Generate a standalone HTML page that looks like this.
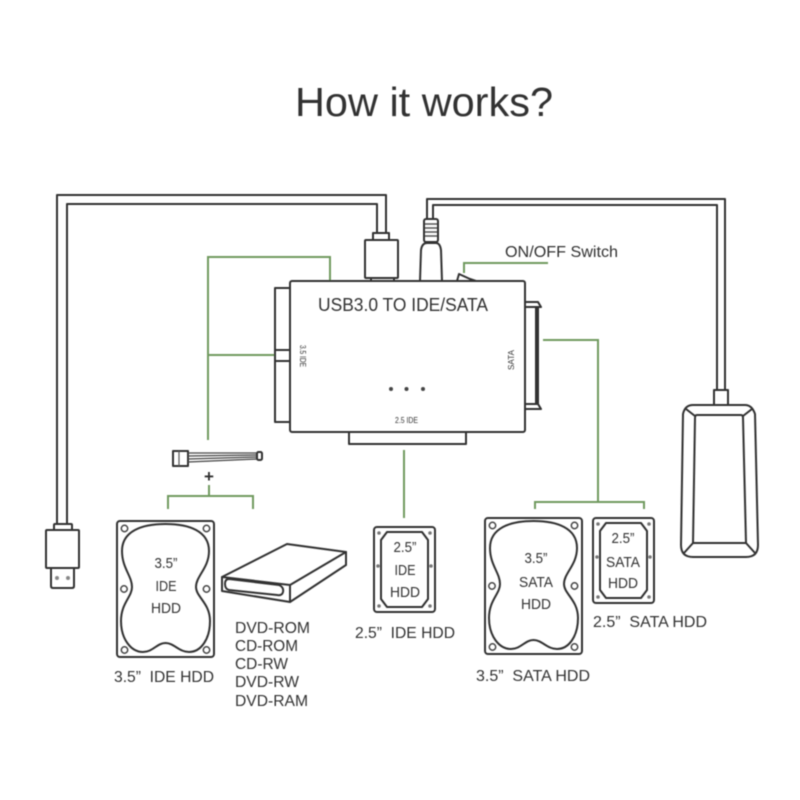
<!DOCTYPE html>
<html><head><meta charset="utf-8"><style>
html,body{margin:0;padding:0;background:#fff}
svg{display:block}
text{font-family:"Liberation Sans",sans-serif;fill:#333}
.k{fill:none;stroke:#333;stroke-width:2;stroke-linejoin:round;stroke-linecap:round}
.t{fill:none;stroke:#444;stroke-width:1.5;stroke-linejoin:round}
.g{fill:none;stroke:#6f9a5e;stroke-width:2}
</style></head><body>
<svg width="800" height="800" viewBox="0 0 800 800" xmlns="http://www.w3.org/2000/svg">
<defs>
<filter id="b" x="-5%" y="-5%" width="110%" height="110%"><feGaussianBlur stdDeviation="0.5"/></filter>
<g id="h35">
<rect x="0" y="0" width="97" height="136" rx="3" class="k"/>
<path class="k" d="M48.5 3C25 3 5 10 5 30C5 47 15 55 15 66C15 76 4 82 4 100C4 118 14 131 26 131C36 131 40 122 48.5 122C57 122 62 131 72 131C84 131 93 118 93 100C93 82 79 76 79 66C79 55 92 47 92 30C92 10 72 3 48.5 3Z"/>
<g class="t"><circle cx="7.5" cy="7.5" r="3.2"/><circle cx="89.5" cy="7.5" r="3.2"/><circle cx="7" cy="68" r="3.2"/><circle cx="89.5" cy="68" r="3.2"/><circle cx="7.5" cy="129" r="3.2"/><circle cx="89.5" cy="129" r="3.2"/></g>
</g>
<g id="h25">
<rect x="0" y="0" width="61" height="85" rx="3" class="k"/>
<path class="k" d="M13 5H48L54 13V72L48 80H13L7 72V13Z"/>
<g fill="#777"><circle cx="5" cy="6" r="1.8"/><circle cx="56" cy="6" r="1.8"/><circle cx="4" cy="39" r="1.8"/><circle cx="57" cy="39" r="1.8"/><circle cx="5" cy="79" r="1.8"/><circle cx="56" cy="79" r="1.8"/></g>
</g>
</defs>
<g filter="url(#b)">
<!-- green connectors -->
<path class="g" d="M330 281V257H208V440M208 355H275"/>
<path class="g" d="M209 485V496M168 509V496H253V509"/>
<path class="g" d="M404 450V518"/>
<path class="g" d="M543 340H598V502M535 509V502H644V509"/>
<path class="g" d="M464 273V263H548"/>

<!-- USB cable -->
<path class="k" d="M57 524V195H386V233"/>
<path class="k" d="M67 524V204H377V233"/>
<rect class="k" x="373" y="233" width="16" height="7"/>
<rect class="k" x="365" y="240" width="33" height="38" rx="1"/>
<path class="k" d="M371 278V281M394 278V281"/>
<rect class="k" x="54" y="524" width="18" height="6" rx="1"/>
<rect class="k" x="46" y="530" width="33" height="38" rx="1"/>
<path class="k" d="M51 568V586Q51 588 53 588H72Q74 588 74 586V568"/>
<circle cx="57" cy="578" r="2" fill="#888"/><circle cx="68" cy="578" r="2" fill="#888"/>

<!-- power cable -->
<path class="k" d="M427 219V199H725V390"/>
<path class="k" d="M433 219V205H717V390"/>
<rect class="k" x="424" y="219" width="14" height="23" rx="2"/>
<path d="M425 224H437M425 228H437M425 232H437M425 236H437" stroke="#555" stroke-width="1.5"/>
<path class="k" d="M420 281L421 250Q422 243 427 243H436Q440 243 441 250L442 281"/>
<rect class="k" x="714" y="390" width="14" height="15"/>
<path class="k" d="M693 405H745Q752 405 755 414L758 545Q758 557 746 557H693Q681 557 681 545L683 414Q685 405 693 405Z"/>
<path class="k" d="M697 415H741Q743 415 743 418L746 543H693L695 418Q695 415 697 415Z"/>
<path class="k" d="M686 409L695 416M752 409L743 416M684 553L693 543M755 553L746 543"/>

<!-- adapter -->
<rect class="k" x="290" y="281" width="235" height="151" rx="2" fill="#fff"/>
<path class="k" d="M290 288H275V422H290M275 350H290M275 361H290"/>
<path class="k" d="M349 432V444H466V432"/>
<path class="k" d="M525 302H538L541 307H525M525 404H538L541 409H525M536 307V404M538 307V404"/>
<path class="k" d="M457 281L459 274L470 279L476 281Z"/>
<circle cx="391" cy="389" r="2" fill="#444"/><circle cx="406.500" cy="389" r="2" fill="#444"/><circle cx="423" cy="389" r="2" fill="#444"/>
<text x="318" y="311" font-size="18" textLength="170" lengthAdjust="spacingAndGlyphs">USB3.0 TO IDE/SATA</text>
<text x="505" y="257" font-size="16" textLength="113" lengthAdjust="spacingAndGlyphs">ON/OFF Switch</text>
<text transform="translate(300 345) rotate(90)" font-size="8" textLength="22" lengthAdjust="spacingAndGlyphs">3.5 IDE</text>
<text transform="translate(514 370) rotate(-90)" font-size="8" textLength="20" lengthAdjust="spacingAndGlyphs">SATA</text>
<text x="395" y="423" font-size="8" textLength="23" lengthAdjust="spacingAndGlyphs">2.5 IDE</text>

<!-- cable harness -->
<path class="k" d="M173 451H188V466H173Z"/>
<path d="M179 451V466" stroke="#555" stroke-width="1.2"/>
<path d="M188 453H257M188 456L257 455M188 459L257 457M188 462L257 459" stroke="#444" stroke-width="1.3"/>
<rect class="k" x="257" y="452" width="5" height="8" rx="1.5"/>
<text x="209" y="482" font-size="17" font-weight="bold" text-anchor="middle">+</text>

<!-- drives -->
<use href="#h35" x="117" y="521"/>
<use href="#h35" x="485" y="518"/>
<use href="#h25" x="374" y="527"/>
<use href="#h25" x="593" y="518"/>

<path class="k" d="M222 577L287 544L346 552V565L290 602L222 591Z"/>
<path class="k" d="M222 577L290 585L346 552M290 585V602"/>
<path class="k" d="M229 579L279 585Q284 587 283 592Q282 596 277 595L229 590Q225 589 225 584Q225 579 229 579Z"/>

<g font-size="14.500" text-anchor="middle">
<text x="166" y="568" textLength="23" lengthAdjust="spacingAndGlyphs">3.5”</text><text x="166" y="591" textLength="21" lengthAdjust="spacingAndGlyphs">IDE</text><text x="166" y="613" textLength="30" lengthAdjust="spacingAndGlyphs">HDD</text>
<text x="405" y="552" textLength="23" lengthAdjust="spacingAndGlyphs">2.5”</text><text x="405" y="575" textLength="21" lengthAdjust="spacingAndGlyphs">IDE</text><text x="405" y="597" textLength="30" lengthAdjust="spacingAndGlyphs">HDD</text>
<text x="536" y="563" textLength="23" lengthAdjust="spacingAndGlyphs">3.5”</text><text x="536" y="587" textLength="34" lengthAdjust="spacingAndGlyphs">SATA</text><text x="536" y="609" textLength="30" lengthAdjust="spacingAndGlyphs">HDD</text>
<text x="623" y="543" textLength="23" lengthAdjust="spacingAndGlyphs">2.5”</text><text x="623" y="567" textLength="34" lengthAdjust="spacingAndGlyphs">SATA</text><text x="623" y="588" textLength="30" lengthAdjust="spacingAndGlyphs">HDD</text>
</g>
<g font-size="16">
<text x="114" y="682" textLength="100" lengthAdjust="spacingAndGlyphs" xml:space="preserve">3.5”  IDE HDD</text>
<text x="355" y="638" textLength="100" lengthAdjust="spacingAndGlyphs" xml:space="preserve">2.5”  IDE HDD</text>
<text x="476" y="681" textLength="114" lengthAdjust="spacingAndGlyphs" xml:space="preserve">3.5”  SATA HDD</text>
<text x="593" y="627" textLength="114" lengthAdjust="spacingAndGlyphs" xml:space="preserve">2.5”  SATA HDD</text>
<text x="235" y="633" textLength="75" lengthAdjust="spacingAndGlyphs">DVD-ROM</text>
<text x="235" y="651" textLength="63" lengthAdjust="spacingAndGlyphs">CD-ROM</text>
<text x="235" y="669" textLength="53" lengthAdjust="spacingAndGlyphs">CD-RW</text>
<text x="235" y="687" textLength="64" lengthAdjust="spacingAndGlyphs">DVD-RW</text>
<text x="235" y="706" textLength="73" lengthAdjust="spacingAndGlyphs">DVD-RAM</text>
</g>
<text x="295" y="116" font-size="41" textLength="258" lengthAdjust="spacingAndGlyphs">How it works?</text>
</g>
</svg>
</body></html>
